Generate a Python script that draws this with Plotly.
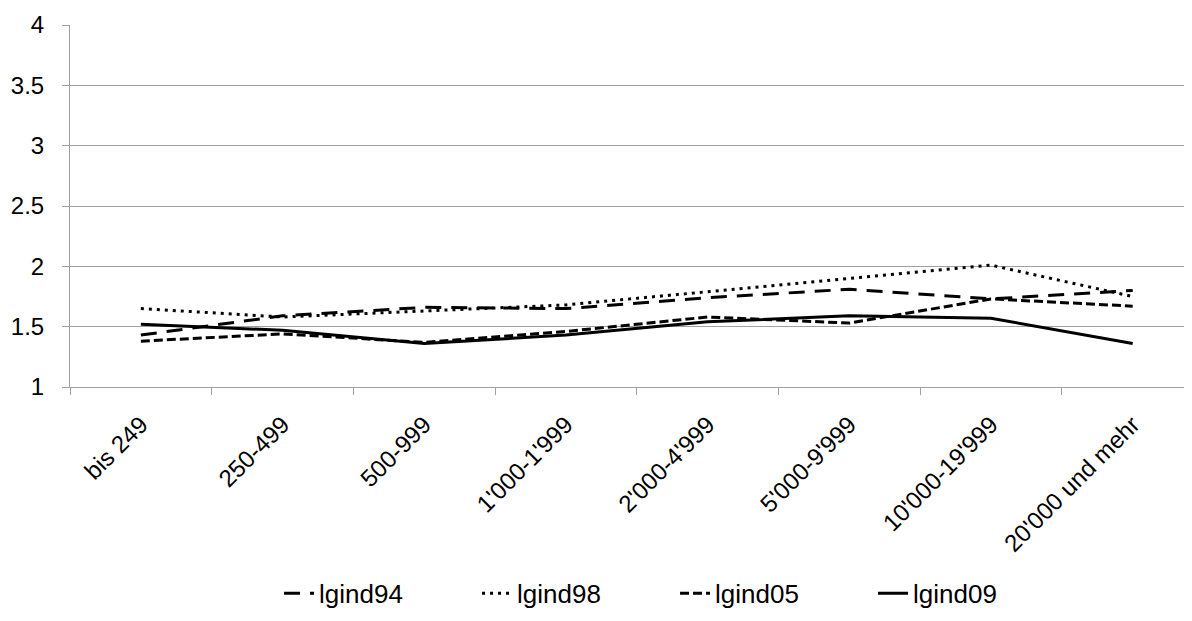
import plotly.graph_objects as go

categories = ["bis 249", "250-499", "500-999", "1'000-1'999", "2'000-4'999",
              "5'000-9'999", "10'000-19'999", "20'000 und mehr"]
lgind94 = [1.43, 1.59, 1.66, 1.65, 1.74, 1.81, 1.73, 1.80]
lgind98 = [1.65, 1.58, 1.63, 1.68, 1.79, 1.90, 2.01, 1.75]
lgind05 = [1.38, 1.44, 1.37, 1.46, 1.58, 1.53, 1.73, 1.67]
lgind09 = [1.52, 1.47, 1.36, 1.43, 1.54, 1.59, 1.57, 1.36]
y_ticks = [1, 1.5, 2, 2.5, 3, 3.5, 4]
y_ticktext = ["1", "1.5", "2", "2.5", "3", "3.5", "4"]

series = [
    ("lgind94", lgind94, "16px,10px"),
    ("lgind98", lgind98, "3px,5px"),
    ("lgind05", lgind05, "9px,4px"),
    ("lgind09", lgind09, "solid"),
]

fig = go.Figure()
for name, vals, dash in series:
    fig.add_trace(go.Scatter(
        x=categories, y=vals, name=name, mode="lines",
        line=dict(color="black", width=3, dash=dash),
    ))

fam = "Liberation Sans, Arial, sans-serif"
tick_font = dict(family=fam, size=24, color="black")
leg_font = dict(family=fam, size=26, color="black")
fig.update_layout(
    width=1192, height=621,
    margin=dict(l=62, r=0, t=17, b=242),
    paper_bgcolor="white", plot_bgcolor="white",
    font=tick_font,
    showlegend=True,
    legend=dict(orientation="h", x=0.185, xanchor="left", y=-0.57, yanchor="middle",
                font=leg_font, entrywidth=153, entrywidthmode="pixels", itemwidth=30),
    xaxis=dict(
        type="category", range=[-0.5, 7.475], tickson="boundaries",
        ticks="outside", ticklen=7, tickcolor="#a0a0a0", tickwidth=1,
        showline=True, linecolor="#a0a0a0", linewidth=1, automargin=False,
        showgrid=False, tickangle=-45, tickfont=tick_font, zeroline=False,
        ticklabelstandoff=13,
    ),
    yaxis=dict(
        range=[1, 4], tickmode="array", tickvals=y_ticks, ticktext=y_ticktext,
        ticks="outside", ticklen=7, tickcolor="#a0a0a0", tickwidth=1,
        showline=True, linecolor="#a0a0a0", linewidth=1, automargin=False,
        showgrid=True, gridcolor="#a0a0a0", gridwidth=1,
        tickfont=tick_font, zeroline=False, ticklabelstandoff=13,
    ),
)

fig.write_html("out.html")
